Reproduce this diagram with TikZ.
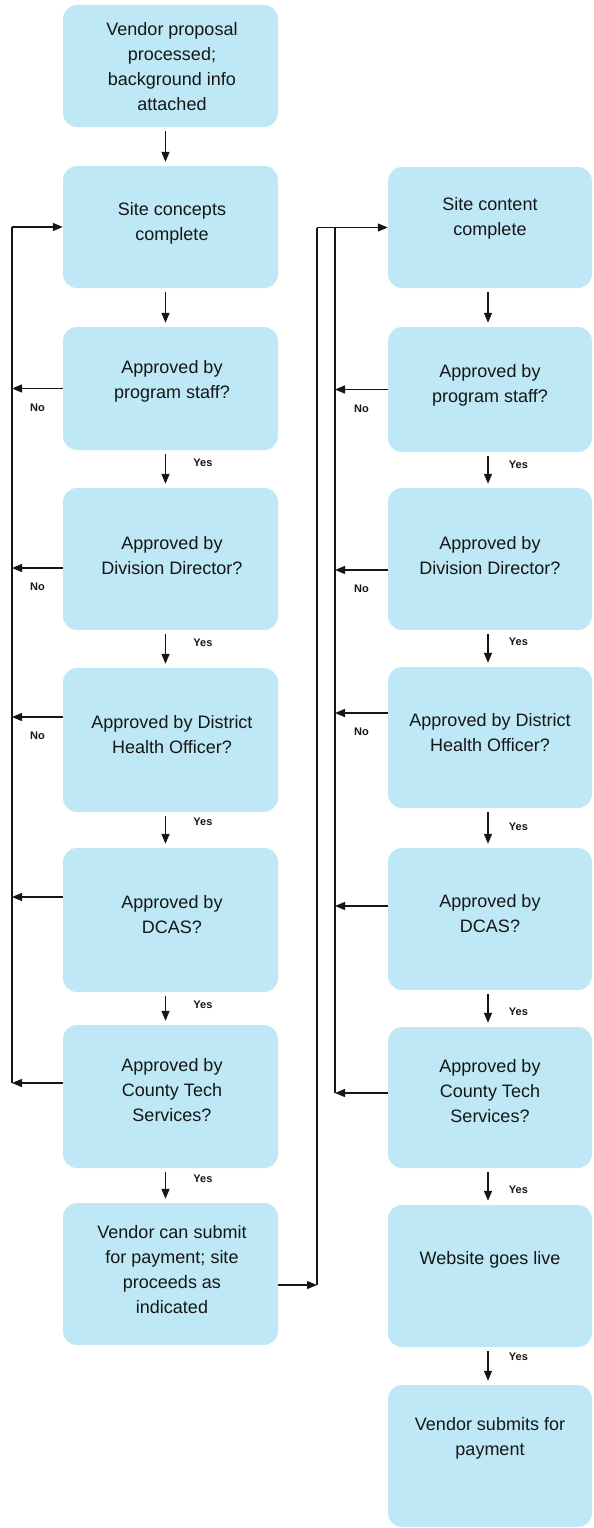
\documentclass[tikz,border=0pt]{standalone}
\usepackage{fontspec}
\setmainfont{Liberation Sans}
\usetikzlibrary{arrows.meta}
\definecolor{boxfill}{RGB}{190,232,245}
\definecolor{ink}{RGB}{22,22,22}
\tikzset{
  box/.style={fill=boxfill, draw=none, rounded corners=14pt},
  boxL/.style={box, minimum width=215pt},
  boxR/.style={box, minimum width=204pt},
  txt/.style={align=center, text=ink, inner sep=0pt, font=\fontsize{18}{25}\selectfont},
  ln/.style={draw=ink, line width=1.3pt},
  arr/.style={ln, -{Triangle[length=10pt,width=8pt]}},
  yesL/.style={anchor=west, xshift=24pt, text=ink, font=\bfseries\fontsize{11}{12}\selectfont},
  yesR/.style={anchor=west, xshift=17pt, text=ink, font=\bfseries\fontsize{11}{12}\selectfont},
  nolab/.style={midway, yshift=-19pt, text=ink, font=\bfseries\fontsize{11}{12}\selectfont}
}
\begin{document}
\begin{tikzpicture}[x=1pt,y=-1pt]
\useasboundingbox (0,0) rectangle (594,1528);
% left column boxes
\node[boxL, minimum height=122pt] (b1) at (170.5,66) {};
\node[boxL, minimum height=122pt] (b2) at (170.5,227) {};
\node[boxL, minimum height=123pt] (b3) at (170.5,388.5) {};
\node[boxL, minimum height=142pt] (b4) at (170.5,559) {};
\node[boxL, minimum height=144pt] (b5) at (170.5,740) {};
\node[boxL, minimum height=144pt] (b6) at (170.5,920) {};
\node[boxL, minimum height=143pt] (b7) at (170.5,1096.5) {};
\node[boxL, minimum height=142pt] (b8) at (170.5,1274) {};
% right column boxes
\node[boxR, minimum height=121pt] (r1) at (490,227.5) {};
\node[boxR, minimum height=125pt] (r2) at (490,389.5) {};
\node[boxR, minimum height=142pt] (r3) at (490,559) {};
\node[boxR, minimum height=141pt] (r4) at (490,737.5) {};
\node[boxR, minimum height=142pt] (r5) at (490,919) {};
\node[boxR, minimum height=141pt] (r6) at (490,1097.5) {};
\node[boxR, minimum height=142pt] (r7) at (490,1276) {};
\node[boxR, minimum height=142pt] (r8) at (490,1456) {};
% texts
\node[txt] (t1) at ([xshift=1.5pt,yshift=-1pt]b1.center) {Vendor proposal\\processed;\\background info\\attached};
\node[txt] (t2) at ([xshift=1.5pt,yshift=4pt]b2.center) {Site concepts\\complete};
\node[txt] (t3) at ([xshift=1.5pt,yshift=7pt]b3.center) {Approved by\\program staff?};
\node[txt] (t4) at ([xshift=1.5pt,yshift=3pt]b4.center) {Approved by\\Division Director?};
\node[txt] (t5) at ([xshift=1.5pt,yshift=5pt]b5.center) {Approved by District\\Health Officer?};
\node[txt] (t6) at ([xshift=1.5pt,yshift=5pt]b6.center) {Approved by\\DCAS?};
\node[txt] (t7) at ([xshift=1.5pt,yshift=6pt]b7.center) {Approved by\\County Tech\\Services?};
\node[txt] (t8) at ([xshift=1.5pt,yshift=4pt]b8.center) {Vendor can submit\\for payment; site\\proceeds as\\indicated};
\node[txt] (s1) at ([yshift=9pt]r1.center) {Site content\\complete};
\node[txt] (s2) at ([yshift=4pt]r2.center) {Approved by\\program staff?};
\node[txt] (s3) at ([yshift=3pt]r3.center) {Approved by\\Division Director?};
\node[txt] (s4) at ([yshift=5pt]r4.center) {Approved by District\\Health Officer?};
\node[txt] (s5) at ([yshift=5pt]r5.center) {Approved by\\DCAS?};
\node[txt] (s6) at ([yshift=6pt]r6.center) {Approved by\\County Tech\\Services?};
\node[txt] (s7) at ([yshift=16pt]r7.center) {Website goes live};
\node[txt] (s8) at ([yshift=18pt]r8.center) {Vendor submits for\\payment};
% loop guide coordinates
\coordinate (lx) at (12,0);
\coordinate (ro) at (317,0);
\coordinate (ri) at (335,0);
% left vertical arrows
\draw[arr] ([xshift=-5pt,yshift=-4pt]b1.south) -- ([xshift=-5pt,yshift=4pt]b2.north);
\draw[arr] ([xshift=-5pt,yshift=-4pt]b2.south) -- ([xshift=-5pt,yshift=4pt]b3.north);
\draw[arr] ([xshift=-5pt,yshift=-4pt]b3.south) -- node[yesL,pos=0.3]{Yes} ([xshift=-5pt,yshift=4pt]b4.north);
\draw[arr] ([xshift=-5pt,yshift=-4pt]b4.south) -- node[yesL,pos=0.3]{Yes} ([xshift=-5pt,yshift=4pt]b5.north);
\draw[arr] ([xshift=-5pt,yshift=-4pt]b5.south) -- node[yesL,pos=0.2]{Yes} ([xshift=-5pt,yshift=4pt]b6.north);
\draw[arr] ([xshift=-5pt,yshift=-4pt]b6.south) -- node[yesL,pos=0.35]{Yes} ([xshift=-5pt,yshift=4pt]b7.north);
\draw[arr] ([xshift=-5pt,yshift=-4pt]b7.south) -- node[yesL,pos=0.25]{Yes} ([xshift=-5pt,yshift=4pt]b8.north);
% right vertical arrows
\draw[arr] ([xshift=-2pt,yshift=-4pt]r1.south) -- ([xshift=-2pt,yshift=4pt]r2.north);
\draw[arr] ([xshift=-2pt,yshift=-4pt]r2.south) -- node[yesR,pos=0.32]{Yes} ([xshift=-2pt,yshift=4pt]r3.north);
\draw[arr] ([xshift=-2pt,yshift=-4pt]r3.south) -- node[yesR,pos=0.28]{Yes} ([xshift=-2pt,yshift=4pt]r4.north);
\draw[arr] ([xshift=-2pt,yshift=-4pt]r4.south) -- node[yesR,pos=0.47]{Yes} ([xshift=-2pt,yshift=4pt]r5.north);
\draw[arr] ([xshift=-2pt,yshift=-4pt]r5.south) -- node[yesR,pos=0.6]{Yes} ([xshift=-2pt,yshift=4pt]r6.north);
\draw[arr] ([xshift=-2pt,yshift=-4pt]r6.south) -- node[yesR,pos=0.6]{Yes} ([xshift=-2pt,yshift=4pt]r7.north);
\draw[arr] ([xshift=-2pt,yshift=-4pt]r7.south) -- node[yesR,pos=0.2]{Yes} ([xshift=-2pt,yshift=4pt]r8.north);
% left feedback arrows
\draw[arr] (b3.west) coordinate (f3) -- node[nolab]{No} (f3 -| lx);
\draw[arr] ([yshift=-9pt]b4.west) coordinate (f4) -- node[nolab]{No} (f4 -| lx);
\draw[arr] ([yshift=23pt]b5.west) coordinate (f5) -- node[nolab]{No} (f5 -| lx);
\draw[arr] ([yshift=23pt]b6.west) coordinate (f6) -- (f6 -| lx);
\draw[arr] ([yshift=13.5pt]b7.west) coordinate (f7) -- (f7 -| lx);
\draw[ln] (f7 -| lx) -- (b2.west -| lx);
\draw[arr] (b2.west -| lx) -- (b2.west);
% right feedback arrows
\draw[arr] (r2.west) coordinate (g2) -- node[nolab]{No} (g2 -| ri);
\draw[arr] ([yshift=-11pt]r3.west) coordinate (g3) -- node[nolab]{No} (g3 -| ri);
\draw[arr] ([yshift=24.5pt]r4.west) coordinate (g4) -- node[nolab]{No} (g4 -| ri);
\draw[arr] ([yshift=13pt]r5.west) coordinate (g5) -- (g5 -| ri);
\draw[arr] ([yshift=4.5pt]r6.west) coordinate (g6) -- (g6 -| ri);
\draw[ln] (g6 -| ri) -- (r1.west -| ri);
% transfer from left column to right column
\draw[arr] ([yshift=-11pt]b8.east) coordinate (h8) -- (h8 -| ro);
\draw[ln] (h8 -| ro) -- (r1.west -| ro);
\draw[arr] (r1.west -| ro) -- (r1.west);
\end{tikzpicture}
\end{document}
